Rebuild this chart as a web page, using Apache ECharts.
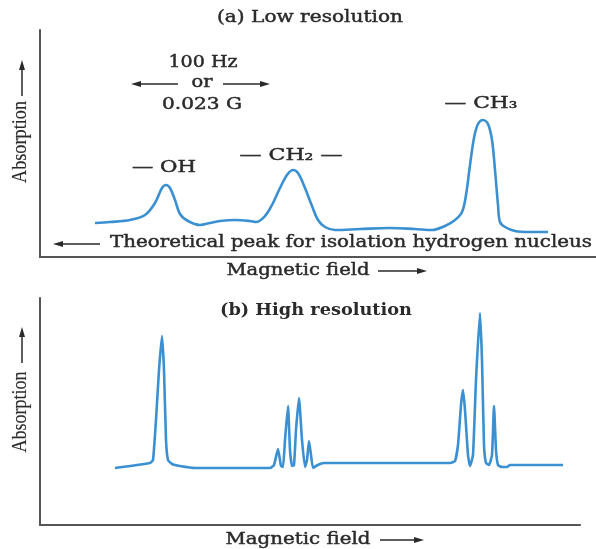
<!DOCTYPE html>
<html>
<head>
<meta charset="utf-8">
<script src="https://cdn.jsdelivr.net/npm/echarts@6/dist/echarts.min.js"></script>
<style>
  html, body { margin: 0; padding: 0; background: #fff; }
  #main { width: 596px; height: 549px; }
</style>
</head>
<body>
<div id="main"></div>
<script>
// (a) low resolution trace: field position / absorption (arbitrary units)
var lowField = [55, 70, 90, 105, 115, 122, 126, 130, 135, 140, 148, 160, 170, 180, 195, 210, 216,
  225, 232, 240, 247, 253, 258, 265, 272, 278, 285, 295, 320, 350, 375, 392, 405, 415, 422,
  426, 430, 434, 438, 443, 448, 452, 455, 458, 460, 465, 475, 490, 508];
var lowAbs = [34, 35, 37, 42, 54, 69, 72, 69, 57, 43, 36, 32, 34, 36, 37, 36, 35,
  41, 52, 69, 82, 87, 84, 69, 51, 37, 30, 27, 28, 29, 28, 27, 31, 37, 45,
  62, 92, 119, 133, 137, 133, 117, 87, 52, 35, 30, 26, 25, 25];

// (b) high resolution trace
var highField = [75, 110, 113, 116, 119, 122, 124, 126, 128, 132, 140, 155, 230, 234, 238, 241, 243,
  245, 248, 250, 252, 254, 256, 259, 262, 265, 267, 269, 271, 273, 276, 280, 284, 410, 415,
  418, 421, 423, 425, 428, 430, 433, 436, 440, 442, 444, 446, 449, 452, 454, 456, 458, 462,
  467, 470, 523];
var highAbs = [57, 62, 65, 105, 155, 189, 155, 85, 65, 61, 59, 57, 57, 60, 76, 59, 58,
  85, 119, 75, 59, 60, 95, 127, 85, 58, 65, 84, 70, 57, 59, 61, 62, 62, 64,
  80, 120, 135, 115, 70, 59, 70, 145, 212, 165, 80, 62, 60, 70, 119, 75, 60, 58,
  58, 60, 60];

var panelTitles = ['(a) Low resolution', '(b) High resolution'];
var groupLabels = ['\u2014 OH', '\u2014 CH\u2082 \u2014', '\u2014 CH\u2083'];
var spanLabels = ['100 Hz', 'or', '0.023 G'];

function zip(xs, ys) {
  return xs.map(function (x, i) { return [x, ys[i]]; });
}

var chart = echarts.init(document.getElementById('main'), null, { renderer: 'canvas' });

var serif = '"DejaVu Serif"';
var times = '"Liberation Serif"';
var ink = '#2a2a2a';
var blue = '#3a90d1';
var measure = document.createElement('canvas').getContext('2d');

function axisX(idx, max) {
  return {
    type: 'value', gridIndex: idx, min: 0, max: max,
    axisLine: { show: true, onZero: false, lineStyle: { color: '#555', width: 2 } },
    axisTick: { show: false }, axisLabel: { show: false }, splitLine: { show: false }
  };
}
function axisY(idx) {
  return {
    type: 'value', gridIndex: idx, min: 0, max: 227,
    axisLine: { show: true, onZero: false, lineStyle: { color: '#555', width: 2 } },
    axisTick: { show: false }, axisLabel: { show: false }, splitLine: { show: false }
  };
}

// text centred at (cx, cy), stretched to span w pixels
function txt(s, cx, cy, font, w, rot, weight) {
  measure.font = font;
  var k = w / measure.measureText(s).width;
  return {
    type: 'text', x: cx, y: cy, scaleX: k, rotation: rot || 0, silent: true,
    style: {
      text: s, x: 0, y: 0, fill: ink, stroke: ink, lineWidth: weight == null ? 0.45 : weight,
      font: font, align: 'center', verticalAlign: 'middle'
    }
  };
}
// arrow from (x1,y1) to tip (x2,y2)
function arrow(x1, y1, x2, y2) {
  var dx = x2 - x1, dy = y2 - y1, len = Math.sqrt(dx * dx + dy * dy);
  var ux = dx / len, uy = dy / len, h = 10, hw = 3;
  var bx = x2 - ux * h, by = y2 - uy * h;
  return [
    { type: 'line', silent: true, shape: { x1: x1, y1: y1, x2: bx, y2: by }, style: { stroke: ink, lineWidth: 1.5 } },
    { type: 'polygon', silent: true, shape: { points: [[x2, y2], [bx - uy * hw, by + ux * hw], [bx + uy * hw, by - ux * hw]] }, style: { fill: ink } }
  ];
}

var graphics = [
  txt(panelTitles[0], 310, 18, '17px ' + serif, 186),
  txt(panelTitles[1], 316, 311, 'bold 16px ' + serif, 192, 0, 0),
  txt(spanLabels[0], 203, 63, '16px ' + serif, 69),
  txt(spanLabels[1], 202, 83, '16px ' + serif, 21),
  txt(spanLabels[2], 202, 105, '16px ' + serif, 80),
  txt(groupLabels[0], 164, 168, '16px ' + serif, 64),
  txt(groupLabels[1], 291, 156, '16px ' + serif, 103),
  txt(groupLabels[2], 481, 104, '16px ' + serif, 73),
  txt('Theoretical peak for isolation hydrogen nucleus', 351, 243, '17px ' + serif, 482),
  txt('Magnetic field', 298, 271, '17px ' + serif, 143),
  txt('Magnetic field', 298, 540, '17px ' + serif, 145),
  txt('Absorption', 21, 142, '20px ' + times, 82, Math.PI / 2, 0.15),
  txt('Absorption', 21, 412, '20px ' + times, 81, Math.PI / 2, 0.15)
].concat(
  arrow(178, 84, 131, 84), arrow(223, 84, 270, 84),
  arrow(100, 244, 53, 244),
  arrow(378, 271, 427, 271), arrow(380, 540, 424, 540),
  arrow(22, 96, 22, 60), arrow(22, 363, 22, 327)
);

chart.setOption({
  animation: false,
  backgroundColor: '#fff',
  grid: [
    { left: 40, top: 30, width: 556, height: 227 },
    { left: 40, top: 298, width: 540, height: 227 }
  ],
  xAxis: [axisX(0, 556), axisX(1, 540)],
  yAxis: [axisY(0), axisY(1)],
  series: [
    {
      name: 'Low resolution', type: 'line', xAxisIndex: 0, yAxisIndex: 0,
      data: zip(lowField, lowAbs), showSymbol: false, smooth: 0.35,
      lineStyle: { color: blue, width: 2.6 }
    },
    {
      name: 'High resolution', type: 'line', xAxisIndex: 1, yAxisIndex: 1,
      data: zip(highField, highAbs), showSymbol: false, smooth: 0.15,
      lineStyle: { color: blue, width: 2.6 }
    }
  ],
  graphic: graphics
});
</script>
</body>
</html>
